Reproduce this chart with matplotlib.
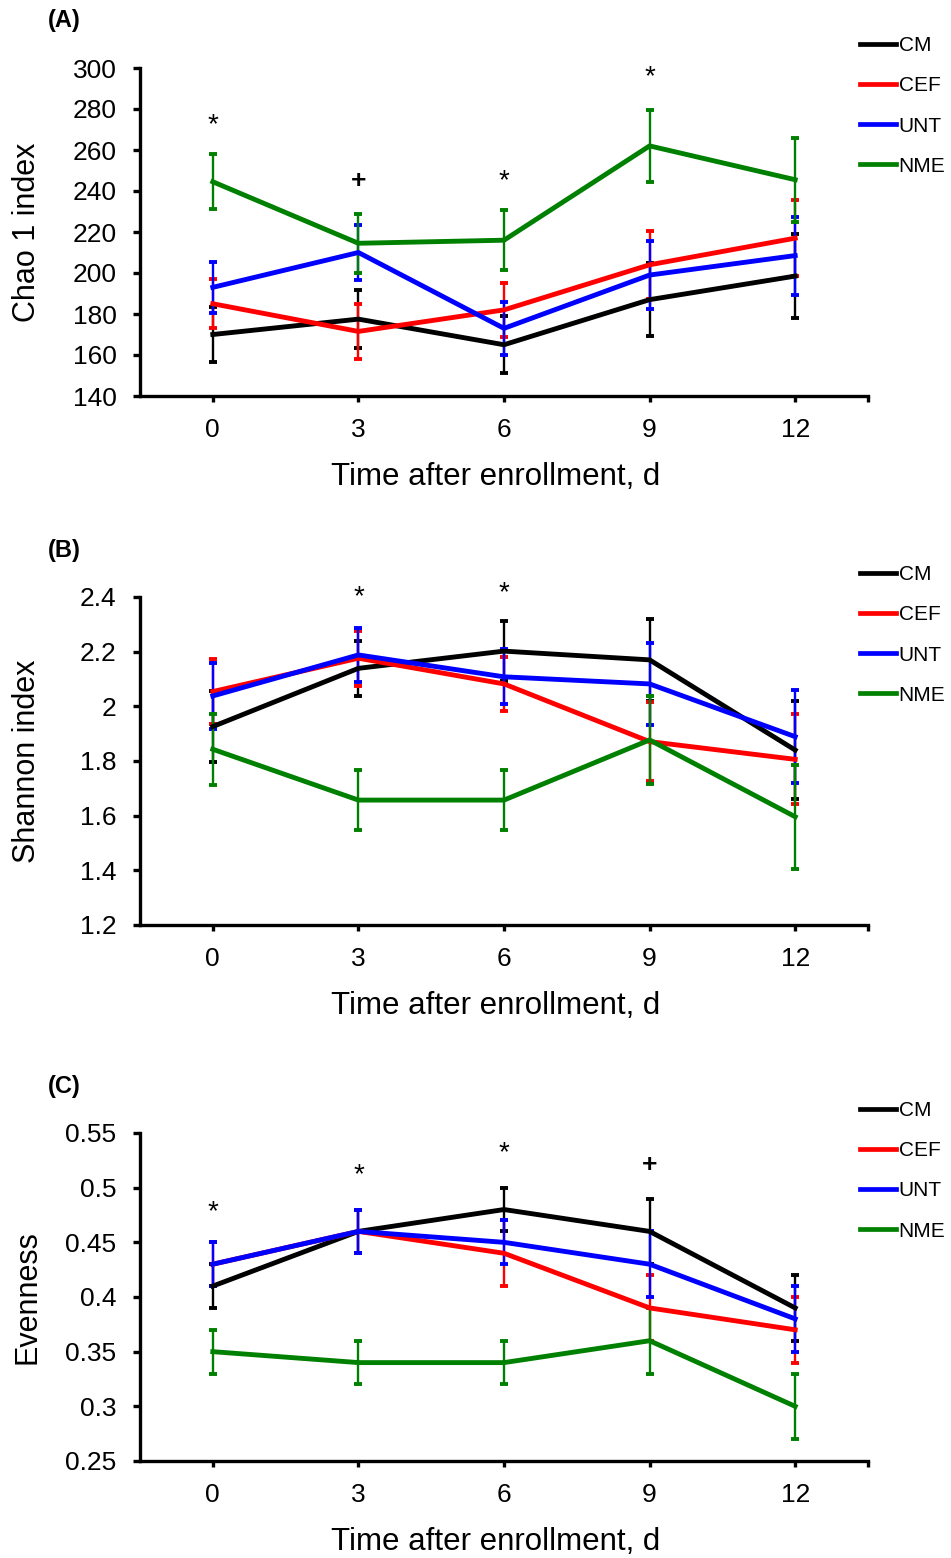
import matplotlib
matplotlib.use('Agg')
import matplotlib.pyplot as plt
from matplotlib.lines import Line2D

plt.rcParams['font.family'] = ['Liberation Sans', 'DejaVu Sans']

days = [0, 3, 6, 9, 12]
day_labels = ['0', '3', '6', '9', '12']
groups = ['CM', 'CEF', 'UNT', 'NME']
colors = ['#000000', '#FF0000', '#0000FF', '#008000']

# Panel A: Chao 1 index
chao_CM = [170, 177.5, 165, 187, 198.5]
chao_CM_err = [13.5, 14.3, 14, 17.7, 20.4]
chao_CEF = [185, 171.5, 182, 204, 217]
chao_CEF_err = [12, 13.4, 13, 16.5, 18.5]
chao_UNT = [193, 210, 173, 199, 208.5]
chao_UNT_err = [12.5, 13.5, 13, 16.5, 19]
chao_NME = [244.5, 214.5, 216, 262, 245.5]
chao_NME_err = [13.5, 14.5, 14.5, 17.7, 20.5]
chao_sig_x = [0, 3, 6, 9]
chao_sig_y = [275.5, 246, 248, 299]
chao_sig_txt = ['*', '+', '*', '*']

# Panel B: Shannon index
shan_CM = [1.926, 2.139, 2.202, 2.17, 1.84]
shan_CM_err = [0.13, 0.1, 0.11, 0.15, 0.18]
shan_CEF = [2.054, 2.176, 2.082, 1.871, 1.806]
shan_CEF_err = [0.12, 0.1, 0.1, 0.145, 0.165]
shan_UNT = [2.038, 2.188, 2.108, 2.082, 1.889]
shan_UNT_err = [0.12, 0.1, 0.1, 0.15, 0.17]
shan_NME = [1.843, 1.657, 1.657, 1.877, 1.596]
shan_NME_err = [0.13, 0.11, 0.11, 0.16, 0.19]
shan_sig_x = [3, 6]
shan_sig_y = [2.425, 2.44]
shan_sig_txt = ['*', '*']

# Panel C: Evenness
even_CM = [0.41, 0.46, 0.48, 0.46, 0.39]
even_CM_err = [0.02, 0.02, 0.02, 0.03, 0.03]
even_CEF = [0.43, 0.46, 0.44, 0.39, 0.37]
even_CEF_err = [0.02, 0.02, 0.03, 0.03, 0.03]
even_UNT = [0.43, 0.46, 0.45, 0.43, 0.38]
even_UNT_err = [0.02, 0.02, 0.02, 0.03, 0.03]
even_NME = [0.35, 0.34, 0.34, 0.36, 0.30]
even_NME_err = [0.02, 0.02, 0.02, 0.03, 0.03]
even_sig_x = [0, 3, 6, 9]
even_sig_y = [0.484, 0.518, 0.538, 0.523]
even_sig_txt = ['*', '*', '*', '+']

panels = [
    dict(tag='(A)', ylabel='Chao 1 index', ylim=(140, 300), yticks=[140, 160, 180, 200, 220, 240, 260, 280, 300],
         yfmt=lambda v: f'{v:.0f}',
         series=[(chao_CM, chao_CM_err), (chao_CEF, chao_CEF_err), (chao_UNT, chao_UNT_err), (chao_NME, chao_NME_err)],
         sig=(chao_sig_x, chao_sig_y, chao_sig_txt), top_px=68),
    dict(tag='(B)', ylabel='Shannon index', ylim=(1.2, 2.4), yticks=[1.2, 1.4, 1.6, 1.8, 2.0, 2.2, 2.4],
         yfmt=lambda v: ('2' if abs(v - 2) < 1e-9 else f'{v:.1f}'),
         series=[(shan_CM, shan_CM_err), (shan_CEF, shan_CEF_err), (shan_UNT, shan_UNT_err), (shan_NME, shan_NME_err)],
         sig=(shan_sig_x, shan_sig_y, shan_sig_txt), top_px=597),
    dict(tag='(C)', ylabel='Evenness', ylim=(0.25, 0.55), yticks=[0.25, 0.3, 0.35, 0.4, 0.45, 0.5, 0.55],
         yfmt=lambda v: (f'{v:.2f}'.rstrip('0')),
         series=[(even_CM, even_CM_err), (even_CEF, even_CEF_err), (even_UNT, even_UNT_err), (even_NME, even_NME_err)],
         sig=(even_sig_x, even_sig_y, even_sig_txt), top_px=1133),
]

W, H = 951, 1558
fig = plt.figure(figsize=(W / 100, H / 100), dpi=100)

for p in panels:
    top = p['top_px']
    ax = fig.add_axes([140 / W, 1 - (top + 328) / H, 728 / W, 328 / H])
    for (vals, errs), col, name in zip(p['series'], colors, groups):
        ax.errorbar(days, vals, yerr=errs, color=col, lw=3.5, elinewidth=1.7,
                    capsize=2.8, capthick=2.8, clip_on=False)
    ax.set_xlim(-1.5, 13.5)
    ax.set_ylim(*p['ylim'])
    ax.set_yticks(p['yticks'])
    ax.set_yticklabels([p['yfmt'](v) for v in p['yticks']])
    ax.set_xticks(days + [13.5])
    ax.set_xticklabels(day_labels + [''])
    for s in ['top', 'right']:
        ax.spines[s].set_visible(False)
    for s in ['left', 'bottom']:
        ax.spines[s].set_linewidth(2.4)
    ax.tick_params(axis='x', length=4, width=2.4, pad=12, labelsize=19)
    ax.tick_params(axis='y', length=5, width=2.4, pad=12, labelsize=19)
    ax.set_ylabel(p['ylabel'], fontsize=22)
    ax.yaxis.set_label_coords(-0.134, 0.5)
    ax.set_xlabel('Time after enrollment, d', fontsize=22.5)
    ax.xaxis.set_label_coords(0.489, -0.2)
    sx, sy, st = p['sig']
    for x, y, t in zip(sx, sy, st):
        if t == '*':
            ax.annotate(t, (x, y), xytext=(0, -10), textcoords='offset points', ha='center',
                        va='baseline', fontsize=20, annotation_clip=False)
        else:
            ax.annotate(t, (x, y), xytext=(0, -6.6), textcoords='offset points', ha='center',
                        va='baseline', fontsize=19, fontweight='bold', annotation_clip=False)
    fig.text(48 / W, 1 - (top - 47) / H, p['tag'], fontsize=17, fontweight='bold', ha='left', va='center')
    handles = [Line2D([0], [0], color=c, lw=3.4) for c in colors]
    ax.legend(handles, groups, loc='upper left', bbox_to_anchor=(860 / W, 1 - (top - 32) / H),
              bbox_transform=fig.transFigure, frameon=False, fontsize=15,
              handlelength=1.75, handletextpad=0.1, labelspacing=1.02, borderpad=0,
              borderaxespad=0)

fig.savefig('out.png', dpi=100)
